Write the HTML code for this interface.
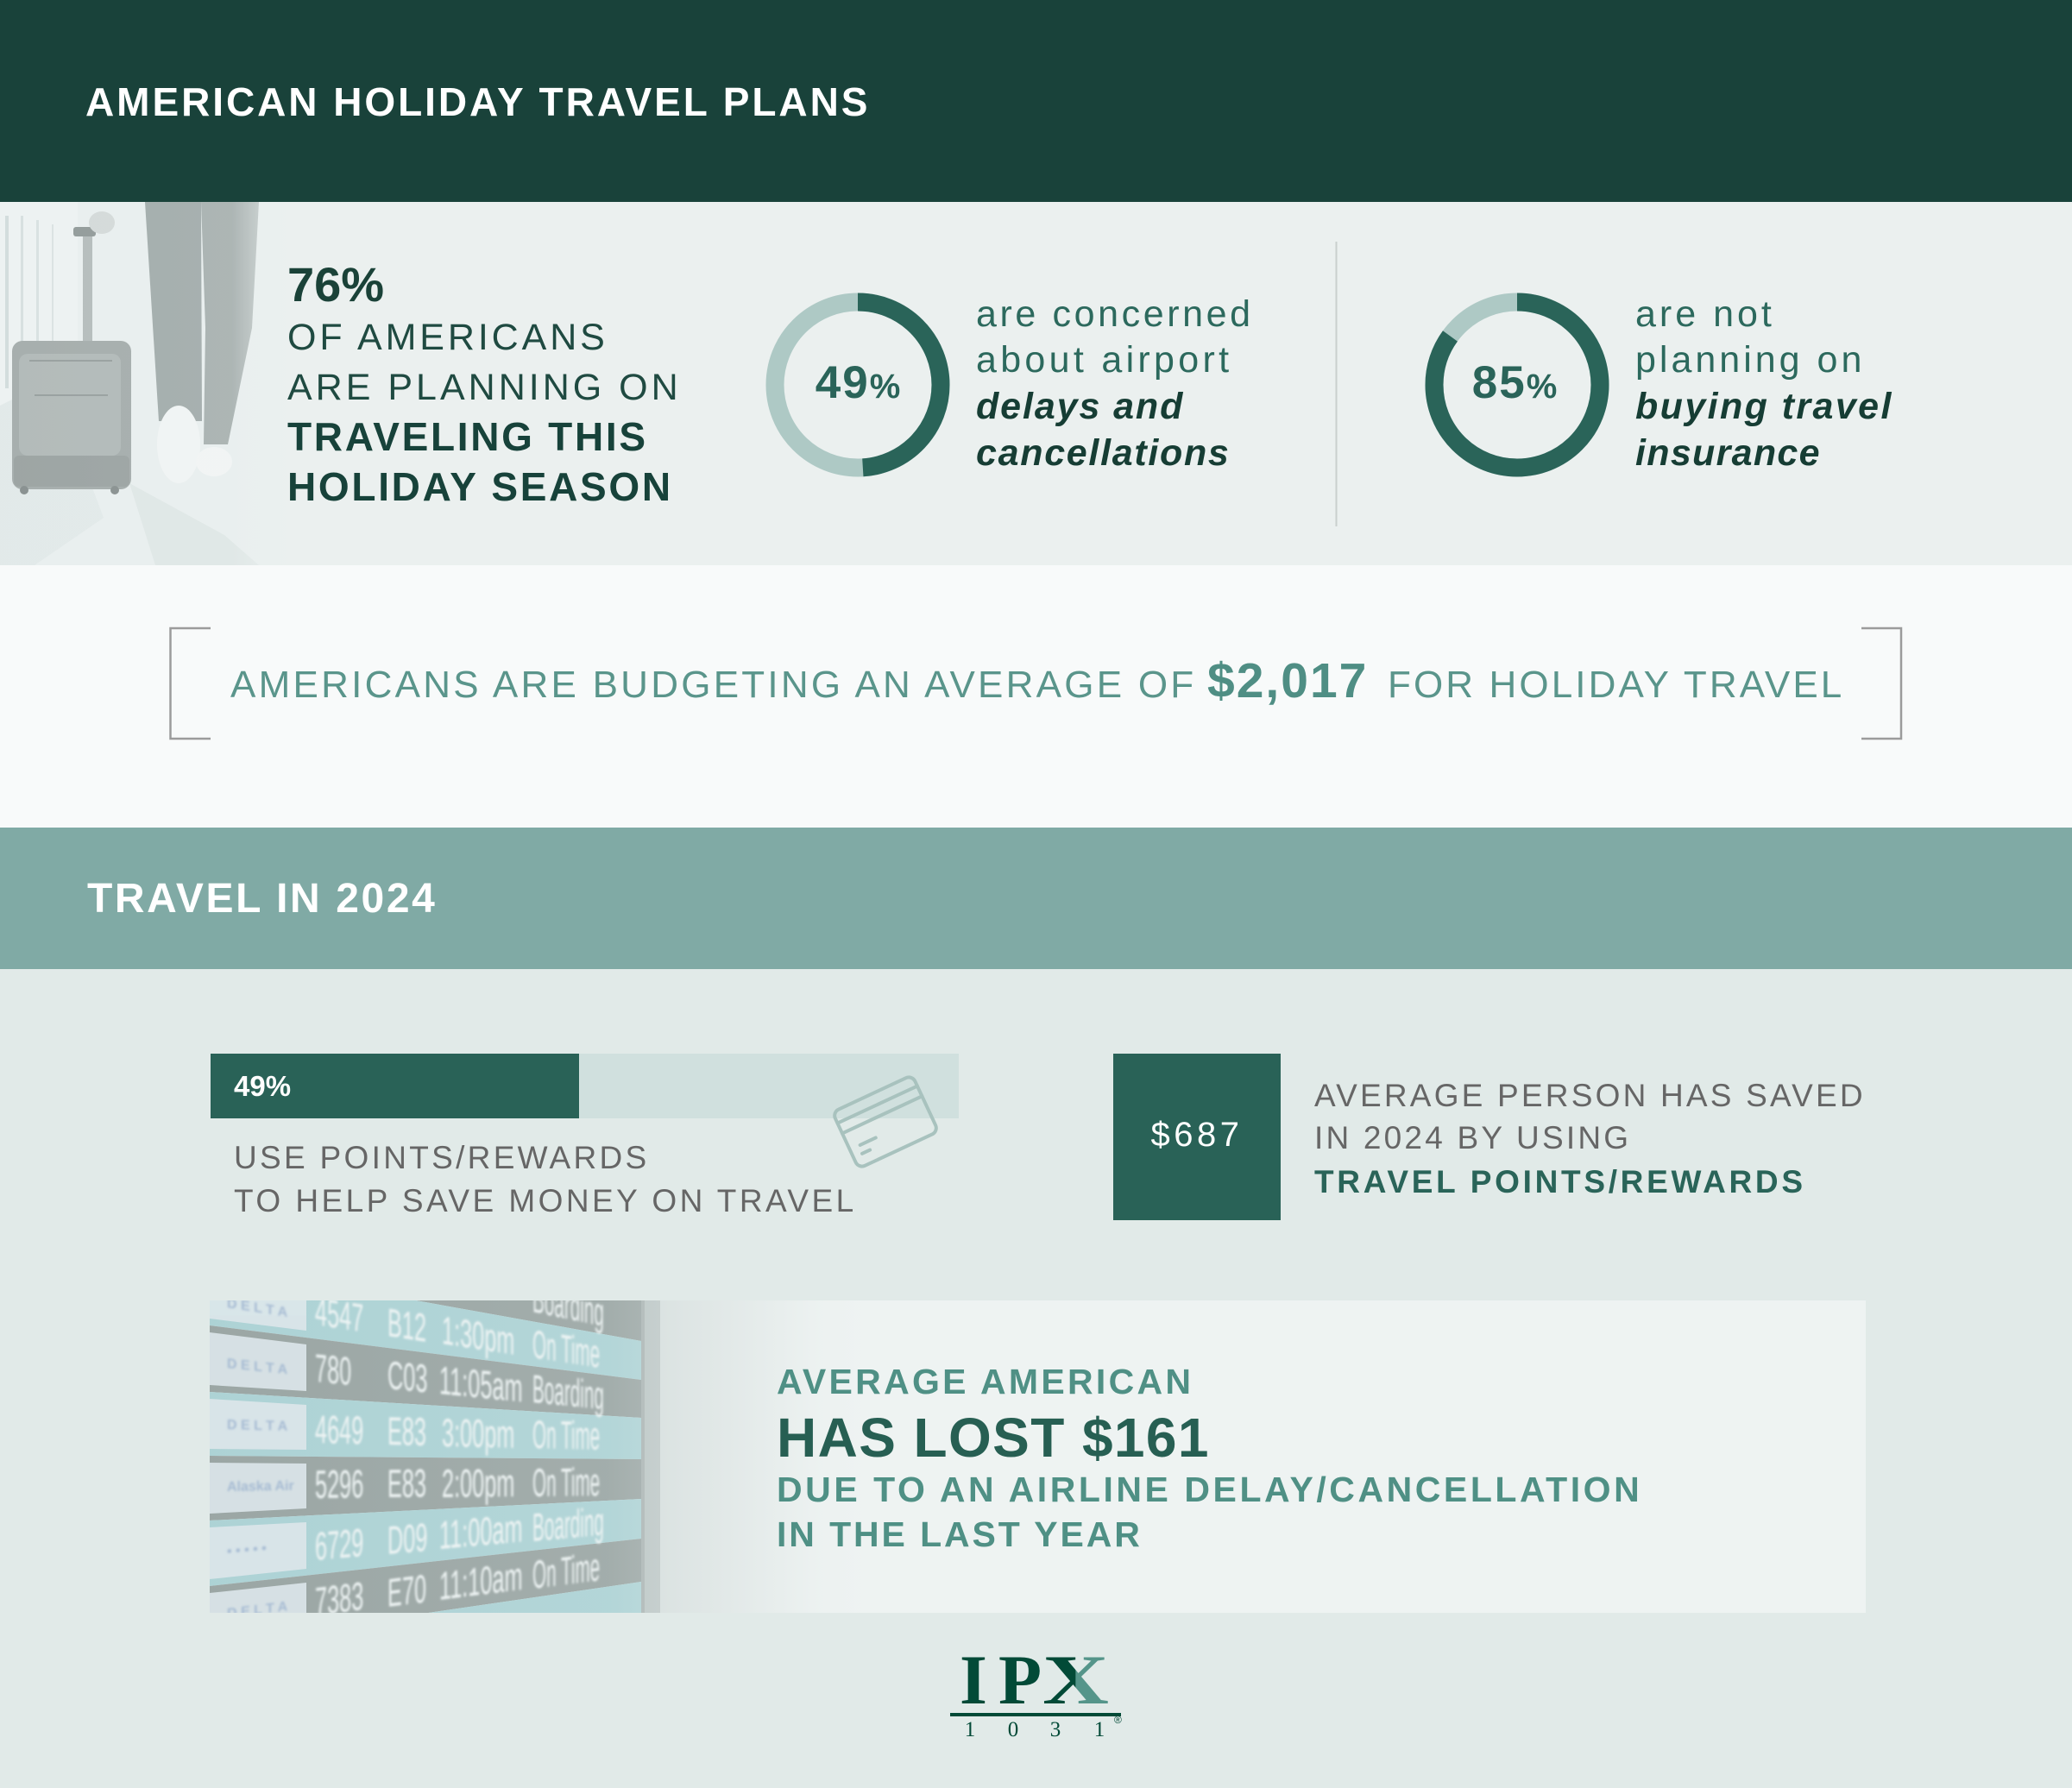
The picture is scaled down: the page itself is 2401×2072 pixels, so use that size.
<!DOCTYPE html>
<html><head><meta charset="utf-8">
<style>
html,body{margin:0;padding:0;}
body{width:2401px;height:2072px;overflow:hidden;background:#e1eae8;}
#r{position:relative;width:2401px;height:2072px;overflow:hidden;font-family:"Liberation Sans",sans-serif;}
.a{position:absolute;}
.t{position:absolute;white-space:nowrap;line-height:1;font-family:"Liberation Sans",sans-serif;}
.b{font-weight:bold;}
.bi{font-weight:bold;font-style:italic;}
.s{font-family:"Liberation Serif",serif;font-weight:bold;}
</style></head><body><div id="r">

<!-- backgrounds -->
<div class="a" style="left:0;top:0;width:2401px;height:234px;background:#19423a"></div>
<div class="a" style="left:0;top:234px;width:2401px;height:421px;background:#ebf0ef"></div>
<div class="a" style="left:0;top:655px;width:2401px;height:304px;background:#f8fafa"></div>
<div class="a" style="left:0;top:959px;width:2401px;height:164px;background:#80aaa5"></div>
<div class="a" style="left:0;top:1123px;width:2401px;height:949px;background:#e1eae8"></div>

<!-- traveler photo (faded) -->
<svg class="a" style="left:0;top:234px" width="345" height="421" viewBox="0 234 345 421">
  <defs>
    <linearGradient id="pf" x1="0" y1="0" x2="345" y2="0" gradientUnits="userSpaceOnUse">
      <stop offset="0" stop-color="#ebf0ef" stop-opacity="0.05"/>
      <stop offset="0.78" stop-color="#ebf0ef" stop-opacity="0.1"/>
      <stop offset="0.9" stop-color="#ebf0ef" stop-opacity="0.6"/>
      <stop offset="1" stop-color="#ebf0ef" stop-opacity="1"/>
    </linearGradient>
  </defs>
  <rect x="0" y="234" width="345" height="421" fill="#e9efef"/>
  <rect x="0" y="234" width="90" height="240" fill="#edf2f2"/>
  <rect x="6" y="250" width="4" height="200" fill="#d2dcdc"/>
  <rect x="24" y="250" width="3" height="190" fill="#d6dfdf"/>
  <rect x="42" y="255" width="3" height="170" fill="#d8e1e1"/>
  <rect x="60" y="260" width="2" height="150" fill="#dae2e2"/>
  <polygon points="0,470 60,440 120,600 40,655 0,655" fill="#e2e9e9"/>
  <polygon points="150,560 260,620 300,655 180,655" fill="#dfe7e6"/>
  <!-- handle -->
  <rect x="96" y="272" width="11" height="125" fill="#b3bbba"/>
  <rect x="85" y="263" width="26" height="11" rx="3" fill="#8f9897"/>
  <ellipse cx="118" cy="258" rx="15" ry="13" fill="#d3d9d8"/>
  <!-- suitcase -->
  <rect x="14" y="395" width="138" height="172" rx="12" fill="#a3abaa"/>
  <rect x="22" y="410" width="118" height="118" rx="10" fill="#b0b8b7"/>
  <line x1="34" y1="418" x2="130" y2="418" stroke="#959d9c" stroke-width="2"/>
  <line x1="40" y1="458" x2="125" y2="458" stroke="#959d9c" stroke-width="2"/>
  <rect x="16" y="528" width="134" height="36" rx="6" fill="#99a1a0"/>
  <circle cx="28" cy="568" r="5" fill="#858d8c"/>
  <circle cx="133" cy="568" r="5" fill="#858d8c"/>
  <!-- legs -->
  <polygon points="168,234 233,234 234,488 184,488" fill="#a0aaa9"/>
  <polygon points="233,234 300,234 292,380 264,515 236,515 238,380" fill="#a6afae"/>
  <ellipse cx="207" cy="515" rx="25" ry="45" fill="#f1f4f4"/>
  <ellipse cx="248" cy="535" rx="21" ry="17" fill="#f2f5f5"/>
  <rect x="0" y="234" width="345" height="421" fill="url(#pf)"/>
</svg>

<!-- lost money box -->
<div class="a" style="left:243px;top:1507px;width:1919px;height:362px;background:#eef3f2"></div>
<svg class="a" style="left:243px;top:1507px" width="770" height="362" viewBox="0 0 770 362">
  <defs>
    <linearGradient id="bf" x1="0" y1="0" x2="770" y2="0" gradientUnits="userSpaceOnUse">
      <stop offset="0" stop-color="#eef3f2" stop-opacity="0.1"/>
      <stop offset="0.6" stop-color="#eef3f2" stop-opacity="0.18"/>
      <stop offset="0.68" stop-color="#eef3f2" stop-opacity="0.3"/>
      <stop offset="0.8" stop-color="#eef3f2" stop-opacity="0.62"/>
      <stop offset="0.92" stop-color="#eef3f2" stop-opacity="0.95"/>
      <stop offset="1" stop-color="#eef3f2" stop-opacity="1"/>
    </linearGradient>
    <filter id="bl" x="-10%" y="-10%" width="120%" height="120%"><feGaussianBlur stdDeviation="1.4"/></filter>
  </defs>
  <polygon points="0,-200 500,-100 500,47 0,-43" fill="#929e9c"/>
  <polygon points="0,-43 500,47 500,92 0,29" fill="#a6cfd2"/>
  <polygon points="0,29 500,92 500,136 0,106" fill="#929e9c"/>
  <polygon points="0,106 500,136 500,184 0,180" fill="#a6cfd2"/>
  <polygon points="0,180 500,184 500,230 0,255" fill="#929e9c"/>
  <polygon points="0,255 500,230 500,276 0,331" fill="#a6cfd2"/>
  <polygon points="0,331 500,276 500,326 0,399" fill="#929e9c"/>
  <polygon points="0,399 500,326 500,420 0,420" fill="#a6cfd2"/>
  <g fill="#dbe5ea" opacity="0.9">
    <polygon points="0,-35 112,-15 112,35 0,21"/>
    <polygon points="0,37 112,51 112,105 0,98"/>
    <polygon points="0,114 112,121 112,173 0,172"/>
    <polygon points="0,188 112,189 112,241 0,247"/>
    <polygon points="0,263 112,257 112,311 0,323"/>
    <polygon points="0,339 112,327 112,375 0,391"/>
  </g>
  <g filter="url(#bl)" fill="#9db4cf" font-family="Liberation Sans, sans-serif" font-size="16" font-weight="bold">
    <text transform="translate(20 8) skewY(9)">D E L T A</text>
    <text transform="translate(20 78) skewY(6)">D E L T A</text>
    <text transform="translate(20 149) skewY(1.5)">D E L T A</text>
    <text transform="translate(20 221) skewY(-1)">Alaska Air</text>
    <text transform="translate(20 296) skewY(-5)">• • • • •</text>
    <text transform="translate(20 368) skewY(-7)">D E L T A</text>
  </g>
  <rect x="500" y="0" width="22" height="362" fill="#b5c0bf"/>
  <rect x="500" y="0" width="4" height="362" fill="#a2adac"/>
  <rect x="522" y="0" width="248" height="362" fill="#d3dcdb"/>
  <g filter="url(#bl)" fill="#eef4f4" font-family="Liberation Sans, sans-serif" font-size="46">
    <text transform="translate(374 13) skewY(11.7) scale(0.45 1)">Boarding</text>
    <text transform="translate(122 28) skewY(8.75) scale(0.55 1)">4547</text>
    <text transform="translate(206 41) skewY(8.75) scale(0.55 1)">B12</text>
    <text transform="translate(269 50) skewY(8.75) scale(0.55 1)">1:30pm</text>
    <text transform="translate(374 66) skewY(8.75) scale(0.45 1)">On Time</text>
    <text transform="translate(122 94) skewY(5.7) scale(0.55 1)">780</text>
    <text transform="translate(206 102) skewY(5.7) scale(0.55 1)">C03</text>
    <text transform="translate(266 108) skewY(5.7) scale(0.55 1)">11:05am</text>
    <text transform="translate(374 118) skewY(5.7) scale(0.45 1)">Boarding</text>
    <text transform="translate(122 165) skewY(1.3) scale(0.55 1)">4649</text>
    <text transform="translate(206 167) skewY(1.3) scale(0.55 1)">E83</text>
    <text transform="translate(269 169) skewY(1.3) scale(0.55 1)">3:00pm</text>
    <text transform="translate(374 171) skewY(1.3) scale(0.45 1)">On Time</text>
    <text transform="translate(122 229) skewY(-0.6) scale(0.55 1)">5296</text>
    <text transform="translate(206 228) skewY(-0.6) scale(0.55 1)">E83</text>
    <text transform="translate(269 228) skewY(-0.6) scale(0.55 1)">2:00pm</text>
    <text transform="translate(374 227) skewY(-0.6) scale(0.45 1)">On Time</text>
    <text transform="translate(122 301) skewY(-5.1) scale(0.55 1)">6729</text>
    <text transform="translate(206 294) skewY(-5.1) scale(0.55 1)">D09</text>
    <text transform="translate(266 288) skewY(-5.1) scale(0.55 1)">11:00am</text>
    <text transform="translate(374 279) skewY(-5.1) scale(0.45 1)">Boarding</text>
    <text transform="translate(122 365) skewY(-7.2) scale(0.55 1)">7383</text>
    <text transform="translate(206 355) skewY(-7.2) scale(0.55 1)">E70</text>
    <text transform="translate(266 347) skewY(-7.2) scale(0.55 1)">11:10am</text>
    <text transform="translate(374 334) skewY(-7.2) scale(0.45 1)">On Time</text>
  </g>
  <rect x="0" y="0" width="770" height="362" fill="url(#bf)"/>
</svg>

<!-- shapes -->
<svg class="a" style="left:0;top:0" width="2401" height="2072" viewBox="0 0 2401 2072">
  <circle cx="994" cy="446" r="96" fill="none" stroke="#aec9c5" stroke-width="21"/>
  <circle cx="994" cy="446" r="96" fill="none" stroke="#2a6459" stroke-width="21" stroke-dasharray="295.6 700" transform="rotate(-90 994 446)"/>
  <circle cx="1758" cy="446" r="96" fill="none" stroke="#aec9c5" stroke-width="21"/>
  <circle cx="1758" cy="446" r="96" fill="none" stroke="#2a6459" stroke-width="21" stroke-dasharray="512.7 700" transform="rotate(-90 1758 446)"/>
  <line x1="1548.5" y1="280" x2="1548.5" y2="610" stroke="#c9d0ce" stroke-width="2"/>
  <path d="M244 728 H197.5 V856 H244" fill="none" stroke="#9b9b9b" stroke-width="2.5"/>
  <path d="M2157 728 H2203 V856 H2157" fill="none" stroke="#9b9b9b" stroke-width="2.5"/>
  <rect x="244" y="1221" width="427" height="75" fill="#296257"/>
  <rect x="671" y="1221" width="440" height="75" fill="#d0e0de"/>
  <g transform="translate(1026 1300) rotate(-25)" fill="none" stroke="#a8c2be" stroke-width="4" stroke-linecap="round">
    <rect x="-51" y="-36" width="102" height="72" rx="8"/>
    <line x1="-51" y1="-22" x2="51" y2="-22"/>
    <line x1="-51" y1="-9" x2="51" y2="-9"/>
    <line x1="-38" y1="12" x2="-18" y2="12"/>
    <line x1="-40" y1="22" x2="-30" y2="22"/>
  </g>
  <rect x="1290" y="1221" width="194" height="193" fill="#296257"/>
  <rect x="1101" y="1985" width="198" height="4" fill="#024a37"/>
</svg>

<!-- header -->
<div class="t b" style="left:99px;top:95px;font-size:46px;letter-spacing:2.95px;color:#ffffff">AMERICAN HOLIDAY TRAVEL PLANS</div>

<!-- section 2 -->
<div class="t b" style="left:333px;top:301.6px;font-size:56px;color:#1a4238">76%</div>
<div class="t" style="left:333px;top:369.6px;font-size:43px;letter-spacing:3.9px;color:#1f4a41">OF AMERICANS</div>
<div class="t" style="left:333px;top:427.6px;font-size:43px;letter-spacing:4px;color:#1f4a41">ARE PLANNING ON</div>
<div class="t b" style="left:333px;top:483px;font-size:46px;letter-spacing:2.7px;color:#17423a">TRAVELING THIS</div>
<div class="t b" style="left:333px;top:541px;font-size:46px;letter-spacing:2.7px;color:#17423a">HOLIDAY SEASON</div>

<div class="t b" style="left:844px;top:417px;width:300px;text-align:center;font-size:53px;color:#2a6459"><span style="letter-spacing:2px">49</span><span style="font-size:40px">%</span></div>
<div class="t b" style="left:1605px;top:417px;width:300px;text-align:center;font-size:53px;color:#2a6459"><span style="letter-spacing:2px">85</span><span style="font-size:40px">%</span></div>

<div class="t" style="left:1131px;top:342.6px;font-size:43px;letter-spacing:3.6px;color:#2c695d">are concerned</div>
<div class="t" style="left:1131px;top:395.6px;font-size:43px;letter-spacing:4.3px;color:#2c695d">about airport</div>
<div class="t bi" style="left:1131px;top:449.6px;font-size:43px;letter-spacing:1.9px;color:#163d34">delays and</div>
<div class="t bi" style="left:1131px;top:503.6px;font-size:43px;letter-spacing:1.7px;color:#163d34">cancellations</div>

<div class="t" style="left:1895px;top:342.6px;font-size:43px;letter-spacing:4px;color:#2c695d">are not</div>
<div class="t" style="left:1895px;top:395.6px;font-size:43px;letter-spacing:4px;color:#2c695d">planning on</div>
<div class="t bi" style="left:1895px;top:449.6px;font-size:43px;letter-spacing:2.4px;color:#163d34">buying travel</div>
<div class="t bi" style="left:1895px;top:503.6px;font-size:43px;letter-spacing:1.3px;color:#163d34">insurance</div>

<!-- section 3 -->
<div class="t" style="left:267px;top:771.8px;font-size:44px;letter-spacing:3.25px;color:#5a958b">AMERICANS ARE BUDGETING AN AVERAGE OF</div>
<div class="t b" style="left:1399px;top:760.8px;font-size:57px;letter-spacing:2px;color:#4f8e84">$2,017</div>
<div class="t" style="left:1608px;top:771.8px;font-size:44px;letter-spacing:3.1px;color:#5a958b">FOR HOLIDAY TRAVEL</div>

<!-- band -->
<div class="t b" style="left:101px;top:1018.4px;font-size:48px;letter-spacing:2.6px;color:#ffffff">TRAVEL IN 2024</div>

<!-- points -->
<div class="t b" style="left:271px;top:1242px;font-size:33px;color:#ffffff">49%</div>
<div class="t" style="left:271px;top:1322.7px;font-size:37px;letter-spacing:3.3px;color:#666666">USE POINTS/REWARDS</div>
<div class="t" style="left:271px;top:1372.7px;font-size:37px;letter-spacing:3.45px;color:#666666">TO HELP SAVE MONEY ON TRAVEL</div>

<div class="t" style="left:1290px;top:1295.1px;width:194px;text-align:center;font-size:40px;letter-spacing:4.5px;color:#ffffff">$687</div>
<div class="t" style="left:1523px;top:1250.7px;font-size:37px;letter-spacing:3.2px;color:#666666">AVERAGE PERSON HAS SAVED</div>
<div class="t" style="left:1523px;top:1299.7px;font-size:37px;letter-spacing:3.2px;color:#666666">IN 2024 BY USING</div>
<div class="t b" style="left:1523px;top:1350.7px;font-size:37px;letter-spacing:3.7px;color:#2a6459">TRAVEL POINTS/REWARDS</div>

<!-- lost -->
<div class="t b" style="left:900px;top:1581.3px;font-size:41px;letter-spacing:3.3px;color:#4f9085">AVERAGE AMERICAN</div>
<div class="t b" style="left:900px;top:1633.8px;font-size:64px;letter-spacing:1.4px;color:#275f53">HAS LOST $161</div>
<div class="t b" style="left:900px;top:1706.3px;font-size:41px;letter-spacing:3.55px;color:#4f9085">DUE TO AN AIRLINE DELAY/CANCELLATION</div>
<div class="t b" style="left:900px;top:1758.3px;font-size:41px;letter-spacing:2.9px;color:#4f9085">IN THE LAST YEAR</div>

<!-- logo -->
<div class="t s" style="left:1112px;top:1906px;font-size:82px;color:#024a37">I</div>
<div class="t s" style="left:1157px;top:1906px;font-size:82px;color:#024a37">P</div>
<div class="t s" style="left:1208px;top:1906px;font-size:82px;transform:scaleX(1.3);transform-origin:0 0;background:linear-gradient(90deg,#024a37 0%,#024a37 50%,#55958a 50%,#55958a 100%);-webkit-background-clip:text;background-clip:text;color:transparent">X</div>
<div class="t s" style="left:1109px;top:1992px;width:30px;text-align:center;font-size:25px;font-weight:normal;color:#024a37">1</div>
<div class="t s" style="left:1159px;top:1992px;width:30px;text-align:center;font-size:25px;font-weight:normal;color:#024a37">0</div>
<div class="t s" style="left:1208px;top:1992px;width:30px;text-align:center;font-size:25px;font-weight:normal;color:#024a37">3</div>
<div class="t s" style="left:1259px;top:1992px;width:30px;text-align:center;font-size:25px;font-weight:normal;color:#024a37">1</div>
<div class="t" style="left:1291px;top:1987px;font-size:12px;color:#024a37">®</div>

</div></body></html>
